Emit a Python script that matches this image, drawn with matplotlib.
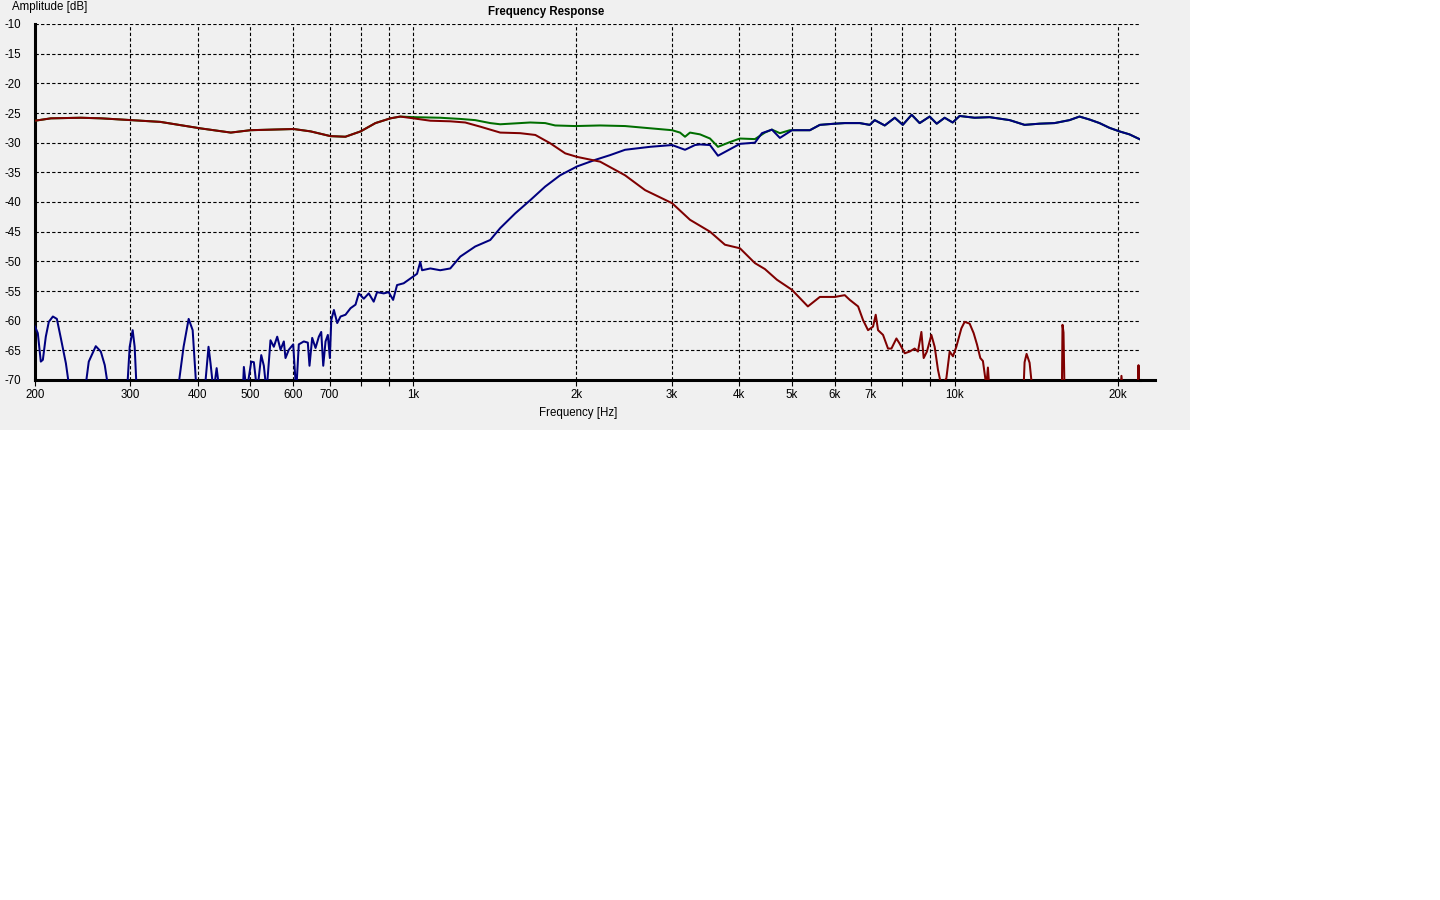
import matplotlib
matplotlib.use("Agg")
from matplotlib import pyplot as plt
from matplotlib.patches import Rectangle
from matplotlib.ticker import FixedLocator, NullLocator
import numpy as np

plt.rcParams['font.family'] = ['Liberation Sans', 'DejaVu Sans']

# tweeter (high pass) response, Hz / dB
blue_f = [200, 202.4, 205, 206.8, 209.4, 212.1, 215.8, 219.5, 223.3, 228.1, 232, 247.2, 251.4, 259, 264.6,
          269.1, 273.8, 295.8, 299.2, 303, 305.6, 308.3, 366.9, 376.3, 384.5, 391.1, 397.7, 411.4, 418.4,
          422, 427.5, 433.1, 438.6, 484, 486.3, 491.9, 501.8, 507.4, 514.7, 523.6, 529.4, 535.6, 544.6,
          552.4, 560.4, 568.4, 576.4, 580.5, 588.8, 599.8, 607.5, 614.3, 627.5, 638.3, 642.9, 650.3, 659.6,
          669, 675.8, 681.6, 688.3, 695.1, 701.1, 705.3, 713.2, 723.4, 733.7, 749.3, 765.5, 781.9, 793,
          809.9, 827.2, 844.8, 857, 881.6, 900.5, 917.5, 933, 959.6, 987.4, 1015.8, 1030, 1037.7, 1075,
          1121, 1170, 1221, 1301, 1387, 1447, 1543, 1644, 1752, 1867, 2007, 2167, 2309, 2461, 2737, 3006,
          3176, 3314, 3385, 3532, 3654, 3845, 4012, 4276, 4405, 4596, 4755, 5005, 5176, 5402, 5636, 6006,
          6266, 6678, 6969, 7118, 7427, 7752, 8020, 8329, 8617, 8991, 9265, 9584, 9915, 10214, 10887,
          11604, 12637, 13465, 14350, 15295, 16300, 17006, 17750, 18520, 19320, 20160, 21035, 21950]
blue_db = [-61.0, -62.1, -66.9, -66.6, -62.7, -60.2, -59.3, -59.7, -63.0, -67.2, -72, -72, -66.9, -64.3, -65.2,
           -67.5, -72, -72, -64.4, -61.6, -64.4, -72, -72, -64.4, -59.7, -61.6, -72, -72, -64.4,
           -67.2, -72, -68, -72, -72, -67.8, -72, -66.9, -67, -72, -65.8, -67.6, -72, -63.3,
           -64.4, -62.7, -64.9, -63.5, -66.3, -64.9, -64.0, -72, -64.0, -63.5, -63.7, -67.6, -62.9, -64.6,
           -62.7, -61.9, -67.6, -63.5, -62.4, -66.3, -59.9, -58.2, -60.4, -59.3, -59.0, -57.9, -57.3, -55.4,
           -56.3, -55.4, -56.8, -55.2, -55.4, -55.2, -56.5, -54.0, -53.7, -52.9, -52.1, -50.1, -51.5, -51.2,
           -51.5, -51.2, -49.2, -47.5, -46.4, -44.4, -41.9, -39.7, -37.4, -35.5, -34.0, -32.9, -32.1, -31.2, -30.7, -30.4,
           -31.2, -30.4, -30.3, -30.4, -32.2, -31.1, -30.2, -30.0, -28.4, -27.8, -29.2, -27.9, -27.9, -27.9, -27.0, -26.8,
           -26.7, -26.7, -27.0, -26.2, -27.1, -25.8, -27.0, -25.3, -26.7, -25.6, -26.8, -25.8, -26.6, -25.5, -25.8,
           -25.7, -26.2, -27.0, -26.8, -26.7, -26.2, -25.6, -26.1, -26.7, -27.5, -28.1, -28.6, -29.4]

# woofer (low pass) response
red_f = [200, 214, 243, 265, 301, 341, 405, 460, 500, 601, 646, 703, 749, 799, 851, 907, 946, 1000, 1075,
         1170, 1247, 1329, 1447, 1575, 1680, 1790, 1908, 2007, 2213, 2461, 2680, 3006, 3244, 3532, 3764,
         4012, 4276, 4461, 4695, 5005, 5356, 5636, 6006, 6266, 6402, 6632, 6773, 6918, 7067, 7148, 7219,
         7374, 7532, 7642, 7806, 7917, 8088, 8260, 8436, 8556, 8681, 8766, 8888, 9057, 9185, 9316, 9451,
         9654, 9790, 9929, 10072, 10289, 10435, 10659, 10842, 10996, 11154, 11278, 11443, 11520, 11604,
         13400, 13465, 13580, 13755, 13930, 15780, 15822, 15890, 15958, 20250, 20330, 20450, 21780, 21860, 21950]
red_db = [-26.3, -25.9, -25.8, -25.9, -26.2, -26.5, -27.6, -28.3, -27.9, -27.7, -28.1, -28.9, -29.0, -28.1, -26.7, -25.9, -25.6, -25.9, -26.3,
          -26.4, -26.6, -27.3, -28.3, -28.4, -28.7, -30.1, -31.8, -32.4, -33.2, -35.5, -38.0, -40.2, -43.0, -45.0, -47.2,
          -47.8, -50.3, -51.3, -53.1, -54.8, -57.6, -56.0, -56.0, -55.7, -56.5, -57.6, -59.9, -61.6, -61.0, -59.0, -61.6,
          -62.4, -64.7, -64.7, -63.0, -63.9, -65.5, -65.2, -64.7, -65.2, -61.9, -66.3, -65.2, -62.4, -64.4, -68.3, -71,
          -69.7, -65.2, -66.0, -64.4, -61.3, -60.2, -60.5, -62.1, -64.0, -66.3, -66.8, -71, -67.9, -72,
          -72, -67, -65.6, -67.1, -72, -72, -60.7, -62, -72, -72, -69.3, -72, -72, -67.5, -72]

# summed response below 5 kHz (above that it follows the tweeter)
green_f = [200, 214, 243, 265, 301, 341, 405, 460, 500, 601, 646, 703, 749, 799, 851, 907, 946, 1000, 1121,
           1221, 1301, 1387, 1447, 1575, 1644, 1752, 1828, 1990, 2213, 2461, 2680, 3006, 3109, 3176, 3244,
           3385, 3532, 3654, 3845, 4012, 4276, 4461, 4596, 4755, 4962]
green_db = [-26.3, -25.9, -25.8, -25.9, -26.2, -26.5, -27.6, -28.3, -27.9, -27.7, -28.1, -28.9, -29.0, -28.1, -26.7, -25.9, -25.6, -25.7, -25.8,
            -26.0, -26.2, -26.7, -26.9, -26.7, -26.6, -26.7, -27.1, -27.2, -27.1, -27.2, -27.5, -27.9, -28.3, -29.0, -28.3,
            -28.6, -29.3, -30.7, -29.9, -29.3, -29.4, -28.3, -27.8, -28.4, -27.9]

xticks = [200, 300, 400, 500, 600, 700, 800, 900, 1000, 2000, 3000, 4000, 5000, 6000, 7000, 8000, 9000, 10000, 20000]
xlabels = ["200", "300", "400", "500", "600", "700", "", "", "1k", "2k", "3k", "4k", "5k", "6k", "7k", "", "", "10k", "20k"]
yticks = [-10, -15, -20, -25, -30, -35, -40, -45, -50, -55, -60, -65, -70]

W, H = 1440, 900
fs = 8.3
fig = plt.figure(figsize=(14.4, 9), dpi=100, facecolor="white")
fig.patches.append(Rectangle((0, 1 - 430 / H), 1190 / W, 430 / H, transform=fig.transFigure,
                             facecolor="#f0f0f0", edgecolor="none", zorder=-10))

ax = fig.add_axes([35 / W, 1 - 380 / H, 1105 / W, 356 / H])
ax.set_facecolor("#f0f0f0")

gf = np.array(green_f + [f for f in blue_f if f >= 5000])
gd = np.array(green_db + [d for f, d in zip(blue_f, blue_db) if f >= 5000])
ax.plot(gf, gd, color="#006e00", lw=1.45, zorder=3)
ax.plot(blue_f, blue_db, color="#00007f", lw=1.45, zorder=4)
ax.plot(red_f, red_db, color="#7f0000", lw=1.45, zorder=5)

ax.set_xscale("log")
ax.set_xlim(200, 22000)
ax.set_ylim(-70, -10)
ax.xaxis.set_major_locator(FixedLocator(xticks))
ax.xaxis.set_minor_locator(NullLocator())
ax.set_xticklabels(xlabels)
ax.set_yticks(yticks)
ax.set_yticklabels([str(v) for v in yticks])

ax.grid(True, color="black", linestyle=(0, (3, 2)), lw=0.8)
ax.set_axisbelow(True)
for s in ["top", "right"]:
    ax.spines[s].set_visible(False)
ax.spines["left"].set_linewidth(2.2)
ax.spines["bottom"].set_linewidth(2.2)
# bottom axis line runs a little past the plotting area
ax.plot([1, 1120 / 1105], [0, 0], transform=ax.transAxes, color="black", lw=2.2, clip_on=False, zorder=6)
ax.tick_params(axis="y", length=0, pad=10, labelsize=fs)
ax.tick_params(axis="x", length=4, width=0.8, direction="out", pad=2.5, labelsize=fs)

fig.text(546 / W, 1 - 12 / H, "Frequency Response", ha="center", va="center", fontsize=fs, fontweight="bold")
fig.text(12 / W, 1 - 7 / H, "Amplitude [dB]", ha="left", va="center", fontsize=fs)
fig.text(578 / W, 1 - 413 / H, "Frequency [Hz]", ha="center", va="center", fontsize=fs)

fig.savefig("out.png", dpi=100, facecolor="white")
